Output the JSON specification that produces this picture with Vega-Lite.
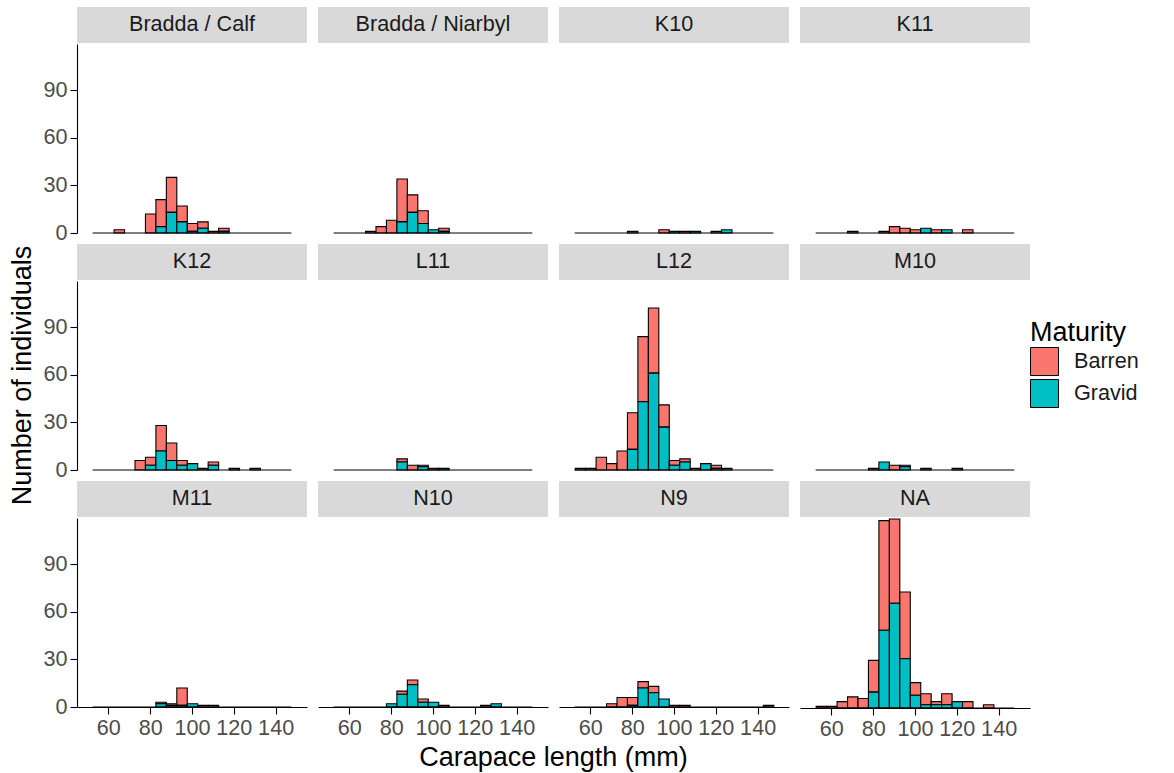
{
"$schema": "https://vega.github.io/schema/vega-lite/v6.json",
"padding": {"left": 8, "top": 7, "right": 0, "bottom": 0},
"title": {"text": "Number of individuals", "orient": "left", "anchor": "middle", "frame": "bounds", "dx": 16, "fontSize": 27, "fontWeight": "normal", "color": "#000", "offset": 6},
"datasets": {
"sites": [{"site":"Bradda / Calf"},{"site":"Bradda / Niarbyl"},{"site":"K10"},{"site":"K11"},{"site":"K12"},{"site":"L11"},{"site":"L12"},{"site":"M10"},{"site":"M11"},{"site":"N10"},{"site":"N9"},{"site":"NA"}],
"xlab": [{"label": "Carapace length (mm)"}],
"base": [{"lo": 52.5, "hi": 147.5, "n": 0}],
"hist": [
{"site":"Bradda / Calf","lo":62.5,"hi":67.5,"maturity":"Barren","n":2},
{"site":"Bradda / Calf","lo":77.5,"hi":82.5,"maturity":"Barren","n":12},
{"site":"Bradda / Calf","lo":82.5,"hi":87.5,"maturity":"Barren","n":17},
{"site":"Bradda / Calf","lo":82.5,"hi":87.5,"maturity":"Gravid","n":4},
{"site":"Bradda / Calf","lo":87.5,"hi":92.5,"maturity":"Barren","n":22},
{"site":"Bradda / Calf","lo":87.5,"hi":92.5,"maturity":"Gravid","n":13},
{"site":"Bradda / Calf","lo":92.5,"hi":97.5,"maturity":"Barren","n":10},
{"site":"Bradda / Calf","lo":92.5,"hi":97.5,"maturity":"Gravid","n":7},
{"site":"Bradda / Calf","lo":97.5,"hi":102.5,"maturity":"Barren","n":5},
{"site":"Bradda / Calf","lo":97.5,"hi":102.5,"maturity":"Gravid","n":1},
{"site":"Bradda / Calf","lo":102.5,"hi":107.5,"maturity":"Barren","n":4},
{"site":"Bradda / Calf","lo":102.5,"hi":107.5,"maturity":"Gravid","n":3},
{"site":"Bradda / Calf","lo":107.5,"hi":112.5,"maturity":"Barren","n":1},
{"site":"Bradda / Calf","lo":112.5,"hi":117.5,"maturity":"Barren","n":2},
{"site":"Bradda / Calf","lo":112.5,"hi":117.5,"maturity":"Gravid","n":1},
{"site":"Bradda / Niarbyl","lo":67.5,"hi":72.5,"maturity":"Barren","n":1},
{"site":"Bradda / Niarbyl","lo":72.5,"hi":77.5,"maturity":"Barren","n":4},
{"site":"Bradda / Niarbyl","lo":77.5,"hi":82.5,"maturity":"Barren","n":8},
{"site":"Bradda / Niarbyl","lo":82.5,"hi":87.5,"maturity":"Barren","n":27},
{"site":"Bradda / Niarbyl","lo":82.5,"hi":87.5,"maturity":"Gravid","n":7},
{"site":"Bradda / Niarbyl","lo":87.5,"hi":92.5,"maturity":"Barren","n":11},
{"site":"Bradda / Niarbyl","lo":87.5,"hi":92.5,"maturity":"Gravid","n":13},
{"site":"Bradda / Niarbyl","lo":92.5,"hi":97.5,"maturity":"Barren","n":8},
{"site":"Bradda / Niarbyl","lo":92.5,"hi":97.5,"maturity":"Gravid","n":6},
{"site":"Bradda / Niarbyl","lo":97.5,"hi":102.5,"maturity":"Gravid","n":2},
{"site":"Bradda / Niarbyl","lo":102.5,"hi":107.5,"maturity":"Barren","n":2},
{"site":"Bradda / Niarbyl","lo":102.5,"hi":107.5,"maturity":"Gravid","n":1},
{"site":"K10","lo":77.5,"hi":82.5,"maturity":"Barren","n":1},
{"site":"K10","lo":92.5,"hi":97.5,"maturity":"Barren","n":2},
{"site":"K10","lo":97.5,"hi":102.5,"maturity":"Gravid","n":1},
{"site":"K10","lo":102.5,"hi":107.5,"maturity":"Barren","n":1},
{"site":"K10","lo":107.5,"hi":112.5,"maturity":"Gravid","n":1},
{"site":"K10","lo":117.5,"hi":122.5,"maturity":"Barren","n":1},
{"site":"K10","lo":122.5,"hi":127.5,"maturity":"Gravid","n":2},
{"site":"K11","lo":67.5,"hi":72.5,"maturity":"Barren","n":1},
{"site":"K11","lo":82.5,"hi":87.5,"maturity":"Barren","n":1},
{"site":"K11","lo":87.5,"hi":92.5,"maturity":"Barren","n":4},
{"site":"K11","lo":92.5,"hi":97.5,"maturity":"Barren","n":3},
{"site":"K11","lo":97.5,"hi":102.5,"maturity":"Barren","n":2},
{"site":"K11","lo":102.5,"hi":107.5,"maturity":"Gravid","n":3},
{"site":"K11","lo":107.5,"hi":112.5,"maturity":"Barren","n":2},
{"site":"K11","lo":112.5,"hi":117.5,"maturity":"Gravid","n":2},
{"site":"K11","lo":122.5,"hi":127.5,"maturity":"Barren","n":2},
{"site":"K12","lo":72.5,"hi":77.5,"maturity":"Barren","n":6},
{"site":"K12","lo":77.5,"hi":82.5,"maturity":"Barren","n":5},
{"site":"K12","lo":77.5,"hi":82.5,"maturity":"Gravid","n":3},
{"site":"K12","lo":82.5,"hi":87.5,"maturity":"Barren","n":16},
{"site":"K12","lo":82.5,"hi":87.5,"maturity":"Gravid","n":12},
{"site":"K12","lo":87.5,"hi":92.5,"maturity":"Barren","n":11},
{"site":"K12","lo":87.5,"hi":92.5,"maturity":"Gravid","n":6},
{"site":"K12","lo":92.5,"hi":97.5,"maturity":"Barren","n":3},
{"site":"K12","lo":92.5,"hi":97.5,"maturity":"Gravid","n":3},
{"site":"K12","lo":97.5,"hi":102.5,"maturity":"Gravid","n":4},
{"site":"K12","lo":102.5,"hi":107.5,"maturity":"Barren","n":1},
{"site":"K12","lo":107.5,"hi":112.5,"maturity":"Barren","n":2},
{"site":"K12","lo":107.5,"hi":112.5,"maturity":"Gravid","n":3},
{"site":"K12","lo":117.5,"hi":122.5,"maturity":"Barren","n":1},
{"site":"K12","lo":127.5,"hi":132.5,"maturity":"Barren","n":1},
{"site":"L11","lo":82.5,"hi":87.5,"maturity":"Barren","n":2},
{"site":"L11","lo":82.5,"hi":87.5,"maturity":"Gravid","n":5},
{"site":"L11","lo":87.5,"hi":92.5,"maturity":"Barren","n":3},
{"site":"L11","lo":92.5,"hi":97.5,"maturity":"Barren","n":1},
{"site":"L11","lo":92.5,"hi":97.5,"maturity":"Gravid","n":2},
{"site":"L11","lo":97.5,"hi":102.5,"maturity":"Barren","n":1},
{"site":"L11","lo":102.5,"hi":107.5,"maturity":"Gravid","n":1},
{"site":"L12","lo":52.5,"hi":57.5,"maturity":"Barren","n":1},
{"site":"L12","lo":57.5,"hi":62.5,"maturity":"Barren","n":1},
{"site":"L12","lo":62.5,"hi":67.5,"maturity":"Barren","n":8},
{"site":"L12","lo":67.5,"hi":72.5,"maturity":"Barren","n":4},
{"site":"L12","lo":72.5,"hi":77.5,"maturity":"Barren","n":12},
{"site":"L12","lo":77.5,"hi":82.5,"maturity":"Barren","n":23},
{"site":"L12","lo":77.5,"hi":82.5,"maturity":"Gravid","n":13},
{"site":"L12","lo":82.5,"hi":87.5,"maturity":"Barren","n":41},
{"site":"L12","lo":82.5,"hi":87.5,"maturity":"Gravid","n":43},
{"site":"L12","lo":87.5,"hi":92.5,"maturity":"Barren","n":41},
{"site":"L12","lo":87.5,"hi":92.5,"maturity":"Gravid","n":61},
{"site":"L12","lo":92.5,"hi":97.5,"maturity":"Barren","n":14},
{"site":"L12","lo":92.5,"hi":97.5,"maturity":"Gravid","n":27},
{"site":"L12","lo":97.5,"hi":102.5,"maturity":"Barren","n":3},
{"site":"L12","lo":97.5,"hi":102.5,"maturity":"Gravid","n":3},
{"site":"L12","lo":102.5,"hi":107.5,"maturity":"Barren","n":2},
{"site":"L12","lo":102.5,"hi":107.5,"maturity":"Gravid","n":5},
{"site":"L12","lo":107.5,"hi":112.5,"maturity":"Barren","n":1},
{"site":"L12","lo":112.5,"hi":117.5,"maturity":"Gravid","n":4},
{"site":"L12","lo":117.5,"hi":122.5,"maturity":"Barren","n":2},
{"site":"L12","lo":117.5,"hi":122.5,"maturity":"Gravid","n":1},
{"site":"L12","lo":122.5,"hi":127.5,"maturity":"Gravid","n":1},
{"site":"M10","lo":77.5,"hi":82.5,"maturity":"Barren","n":1},
{"site":"M10","lo":82.5,"hi":87.5,"maturity":"Gravid","n":5},
{"site":"M10","lo":87.5,"hi":92.5,"maturity":"Barren","n":3},
{"site":"M10","lo":92.5,"hi":97.5,"maturity":"Barren","n":1},
{"site":"M10","lo":92.5,"hi":97.5,"maturity":"Gravid","n":2},
{"site":"M10","lo":102.5,"hi":107.5,"maturity":"Barren","n":1},
{"site":"M10","lo":117.5,"hi":122.5,"maturity":"Barren","n":1},
{"site":"M11","lo":82.5,"hi":87.5,"maturity":"Barren","n":1},
{"site":"M11","lo":82.5,"hi":87.5,"maturity":"Gravid","n":2},
{"site":"M11","lo":87.5,"hi":92.5,"maturity":"Barren","n":1},
{"site":"M11","lo":87.5,"hi":92.5,"maturity":"Gravid","n":1},
{"site":"M11","lo":92.5,"hi":97.5,"maturity":"Barren","n":11},
{"site":"M11","lo":92.5,"hi":97.5,"maturity":"Gravid","n":1},
{"site":"M11","lo":97.5,"hi":102.5,"maturity":"Gravid","n":2},
{"site":"M11","lo":102.5,"hi":107.5,"maturity":"Barren","n":1},
{"site":"M11","lo":107.5,"hi":112.5,"maturity":"Barren","n":1},
{"site":"N10","lo":77.5,"hi":82.5,"maturity":"Gravid","n":2},
{"site":"N10","lo":82.5,"hi":87.5,"maturity":"Barren","n":2},
{"site":"N10","lo":82.5,"hi":87.5,"maturity":"Gravid","n":8},
{"site":"N10","lo":87.5,"hi":92.5,"maturity":"Barren","n":3},
{"site":"N10","lo":87.5,"hi":92.5,"maturity":"Gravid","n":14},
{"site":"N10","lo":92.5,"hi":97.5,"maturity":"Barren","n":2},
{"site":"N10","lo":92.5,"hi":97.5,"maturity":"Gravid","n":3},
{"site":"N10","lo":97.5,"hi":102.5,"maturity":"Gravid","n":3},
{"site":"N10","lo":102.5,"hi":107.5,"maturity":"Barren","n":1},
{"site":"N10","lo":122.5,"hi":127.5,"maturity":"Barren","n":1},
{"site":"N10","lo":127.5,"hi":132.5,"maturity":"Gravid","n":2},
{"site":"N9","lo":67.5,"hi":72.5,"maturity":"Barren","n":2},
{"site":"N9","lo":72.5,"hi":77.5,"maturity":"Barren","n":6},
{"site":"N9","lo":77.5,"hi":82.5,"maturity":"Barren","n":5},
{"site":"N9","lo":77.5,"hi":82.5,"maturity":"Gravid","n":1},
{"site":"N9","lo":82.5,"hi":87.5,"maturity":"Barren","n":4},
{"site":"N9","lo":82.5,"hi":87.5,"maturity":"Gravid","n":12},
{"site":"N9","lo":87.5,"hi":92.5,"maturity":"Barren","n":4},
{"site":"N9","lo":87.5,"hi":92.5,"maturity":"Gravid","n":9},
{"site":"N9","lo":92.5,"hi":97.5,"maturity":"Gravid","n":5},
{"site":"N9","lo":97.5,"hi":102.5,"maturity":"Barren","n":1},
{"site":"N9","lo":102.5,"hi":107.5,"maturity":"Barren","n":1},
{"site":"N9","lo":142.5,"hi":147.5,"maturity":"Barren","n":1},
{"site":"NA","lo":52.5,"hi":57.5,"maturity":"Barren","n":1},
{"site":"NA","lo":57.5,"hi":62.5,"maturity":"Barren","n":1},
{"site":"NA","lo":62.5,"hi":67.5,"maturity":"Barren","n":4},
{"site":"NA","lo":67.5,"hi":72.5,"maturity":"Barren","n":7},
{"site":"NA","lo":72.5,"hi":77.5,"maturity":"Barren","n":6},
{"site":"NA","lo":77.5,"hi":82.5,"maturity":"Barren","n":20},
{"site":"NA","lo":77.5,"hi":82.5,"maturity":"Gravid","n":10},
{"site":"NA","lo":82.5,"hi":87.5,"maturity":"Barren","n":69},
{"site":"NA","lo":82.5,"hi":87.5,"maturity":"Gravid","n":49},
{"site":"NA","lo":87.5,"hi":92.5,"maturity":"Barren","n":53},
{"site":"NA","lo":87.5,"hi":92.5,"maturity":"Gravid","n":66},
{"site":"NA","lo":92.5,"hi":97.5,"maturity":"Barren","n":42},
{"site":"NA","lo":92.5,"hi":97.5,"maturity":"Gravid","n":31},
{"site":"NA","lo":97.5,"hi":102.5,"maturity":"Barren","n":8},
{"site":"NA","lo":97.5,"hi":102.5,"maturity":"Gravid","n":8},
{"site":"NA","lo":102.5,"hi":107.5,"maturity":"Barren","n":7},
{"site":"NA","lo":102.5,"hi":107.5,"maturity":"Gravid","n":2},
{"site":"NA","lo":107.5,"hi":112.5,"maturity":"Barren","n":2},
{"site":"NA","lo":107.5,"hi":112.5,"maturity":"Gravid","n":2},
{"site":"NA","lo":112.5,"hi":117.5,"maturity":"Barren","n":7},
{"site":"NA","lo":112.5,"hi":117.5,"maturity":"Gravid","n":2},
{"site":"NA","lo":117.5,"hi":122.5,"maturity":"Gravid","n":4},
{"site":"NA","lo":122.5,"hi":127.5,"maturity":"Barren","n":4},
{"site":"NA","lo":132.5,"hi":137.5,"maturity":"Barren","n":2}
]
},
"spacing": -1,
"vconcat": [
{"spacing": 11, "hconcat": [
 {"spacing": 1, "vconcat": [
  {"width": 230, "height": 36, "view": {"fill": "#D9D9D9", "stroke": null}, "data": {"name": "sites"}, "transform": [{"filter": "datum.site === 'Bradda / Calf'"}], "mark": {"type": "text", "fontSize": 21.6, "color": "#1A1A1A"}, "encoding": {"text": {"field": "site"}}},
  {"width": 230, "height": 189, "layer": [
   {"data": {"name": "hist"}, "transform": [{"filter": "datum.site === 'Bradda / Calf'"}], "mark": {"type": "bar", "stroke": "#000", "strokeWidth": 1.1, "binSpacing": 0},
    "encoding": {"x": {"field": "lo", "type": "quantitative", "bin": {"binned": true, "step": 5}, "scale": {"domain": [45, 155], "nice": false, "zero": false}, "axis": null},
     "x2": {"field": "hi"},
     "y": {"field": "n", "type": "quantitative", "stack": "zero", "scale": {"domain": [0, 119], "nice": false}, "axis": {"values": [0, 30, 60, 90], "title": null}},
     "color": {"field": "maturity", "type": "nominal", "title": "Maturity", "legend": {"orient": "none", "legendX": 953, "legendY": 313}},
     "order": {"field": "maturity", "sort": "descending"}}},
   {"data": {"name": "base"}, "mark": {"type": "rule", "stroke": "#000", "strokeWidth": 1.1}, "encoding": {"x": {"field": "lo", "type": "quantitative"}, "x2": {"field": "hi"}, "y": {"field": "n", "type": "quantitative"}}}
  ]}
 ]},
 {"spacing": 1, "vconcat": [
  {"width": 230, "height": 36, "view": {"fill": "#D9D9D9", "stroke": null}, "data": {"name": "sites"}, "transform": [{"filter": "datum.site === 'Bradda / Niarbyl'"}], "mark": {"type": "text", "fontSize": 21.6, "color": "#1A1A1A"}, "encoding": {"text": {"field": "site"}}},
  {"width": 230, "height": 189, "layer": [
   {"data": {"name": "hist"}, "transform": [{"filter": "datum.site === 'Bradda / Niarbyl'"}], "mark": {"type": "bar", "stroke": "#000", "strokeWidth": 1.1, "binSpacing": 0},
    "encoding": {"x": {"field": "lo", "type": "quantitative", "bin": {"binned": true, "step": 5}, "scale": {"domain": [45, 155], "nice": false, "zero": false}, "axis": null},
     "x2": {"field": "hi"},
     "y": {"field": "n", "type": "quantitative", "stack": "zero", "scale": {"domain": [0, 119], "nice": false}, "axis": null},
     "color": {"field": "maturity", "type": "nominal", "title": "Maturity", "legend": {"orient": "none", "legendX": 953, "legendY": 313}},
     "order": {"field": "maturity", "sort": "descending"}}},
   {"data": {"name": "base"}, "mark": {"type": "rule", "stroke": "#000", "strokeWidth": 1.1}, "encoding": {"x": {"field": "lo", "type": "quantitative"}, "x2": {"field": "hi"}, "y": {"field": "n", "type": "quantitative"}}}
  ]}
 ]},
 {"spacing": 1, "vconcat": [
  {"width": 230, "height": 36, "view": {"fill": "#D9D9D9", "stroke": null}, "data": {"name": "sites"}, "transform": [{"filter": "datum.site === 'K10'"}], "mark": {"type": "text", "fontSize": 21.6, "color": "#1A1A1A"}, "encoding": {"text": {"field": "site"}}},
  {"width": 230, "height": 189, "layer": [
   {"data": {"name": "hist"}, "transform": [{"filter": "datum.site === 'K10'"}], "mark": {"type": "bar", "stroke": "#000", "strokeWidth": 1.1, "binSpacing": 0},
    "encoding": {"x": {"field": "lo", "type": "quantitative", "bin": {"binned": true, "step": 5}, "scale": {"domain": [45, 155], "nice": false, "zero": false}, "axis": null},
     "x2": {"field": "hi"},
     "y": {"field": "n", "type": "quantitative", "stack": "zero", "scale": {"domain": [0, 119], "nice": false}, "axis": null},
     "color": {"field": "maturity", "type": "nominal", "title": "Maturity", "legend": {"orient": "none", "legendX": 953, "legendY": 313}},
     "order": {"field": "maturity", "sort": "descending"}}},
   {"data": {"name": "base"}, "mark": {"type": "rule", "stroke": "#000", "strokeWidth": 1.1}, "encoding": {"x": {"field": "lo", "type": "quantitative"}, "x2": {"field": "hi"}, "y": {"field": "n", "type": "quantitative"}}}
  ]}
 ]},
 {"spacing": 1, "vconcat": [
  {"width": 230, "height": 36, "view": {"fill": "#D9D9D9", "stroke": null}, "data": {"name": "sites"}, "transform": [{"filter": "datum.site === 'K11'"}], "mark": {"type": "text", "fontSize": 21.6, "color": "#1A1A1A"}, "encoding": {"text": {"field": "site"}}},
  {"width": 230, "height": 189, "layer": [
   {"data": {"name": "hist"}, "transform": [{"filter": "datum.site === 'K11'"}], "mark": {"type": "bar", "stroke": "#000", "strokeWidth": 1.1, "binSpacing": 0},
    "encoding": {"x": {"field": "lo", "type": "quantitative", "bin": {"binned": true, "step": 5}, "scale": {"domain": [45, 155], "nice": false, "zero": false}, "axis": null},
     "x2": {"field": "hi"},
     "y": {"field": "n", "type": "quantitative", "stack": "zero", "scale": {"domain": [0, 119], "nice": false}, "axis": null},
     "color": {"field": "maturity", "type": "nominal", "title": "Maturity", "legend": {"orient": "none", "legendX": 953, "legendY": 313}},
     "order": {"field": "maturity", "sort": "descending"}}},
   {"data": {"name": "base"}, "mark": {"type": "rule", "stroke": "#000", "strokeWidth": 1.1}, "encoding": {"x": {"field": "lo", "type": "quantitative"}, "x2": {"field": "hi"}, "y": {"field": "n", "type": "quantitative"}}}
  ]}
 ]}
]},
{"spacing": 11, "hconcat": [
 {"spacing": 1, "vconcat": [
  {"width": 230, "height": 36, "view": {"fill": "#D9D9D9", "stroke": null}, "data": {"name": "sites"}, "transform": [{"filter": "datum.site === 'K12'"}], "mark": {"type": "text", "fontSize": 21.6, "color": "#1A1A1A"}, "encoding": {"text": {"field": "site"}}},
  {"width": 230, "height": 189, "layer": [
   {"data": {"name": "hist"}, "transform": [{"filter": "datum.site === 'K12'"}], "mark": {"type": "bar", "stroke": "#000", "strokeWidth": 1.1, "binSpacing": 0},
    "encoding": {"x": {"field": "lo", "type": "quantitative", "bin": {"binned": true, "step": 5}, "scale": {"domain": [45, 155], "nice": false, "zero": false}, "axis": null},
     "x2": {"field": "hi"},
     "y": {"field": "n", "type": "quantitative", "stack": "zero", "scale": {"domain": [0, 119], "nice": false}, "axis": {"values": [0, 30, 60, 90], "title": null}},
     "color": {"field": "maturity", "type": "nominal", "title": "Maturity", "legend": {"orient": "none", "legendX": 953, "legendY": 313}},
     "order": {"field": "maturity", "sort": "descending"}}},
   {"data": {"name": "base"}, "mark": {"type": "rule", "stroke": "#000", "strokeWidth": 1.1}, "encoding": {"x": {"field": "lo", "type": "quantitative"}, "x2": {"field": "hi"}, "y": {"field": "n", "type": "quantitative"}}}
  ]}
 ]},
 {"spacing": 1, "vconcat": [
  {"width": 230, "height": 36, "view": {"fill": "#D9D9D9", "stroke": null}, "data": {"name": "sites"}, "transform": [{"filter": "datum.site === 'L11'"}], "mark": {"type": "text", "fontSize": 21.6, "color": "#1A1A1A"}, "encoding": {"text": {"field": "site"}}},
  {"width": 230, "height": 189, "layer": [
   {"data": {"name": "hist"}, "transform": [{"filter": "datum.site === 'L11'"}], "mark": {"type": "bar", "stroke": "#000", "strokeWidth": 1.1, "binSpacing": 0},
    "encoding": {"x": {"field": "lo", "type": "quantitative", "bin": {"binned": true, "step": 5}, "scale": {"domain": [45, 155], "nice": false, "zero": false}, "axis": null},
     "x2": {"field": "hi"},
     "y": {"field": "n", "type": "quantitative", "stack": "zero", "scale": {"domain": [0, 119], "nice": false}, "axis": null},
     "color": {"field": "maturity", "type": "nominal", "title": "Maturity", "legend": {"orient": "none", "legendX": 953, "legendY": 313}},
     "order": {"field": "maturity", "sort": "descending"}}},
   {"data": {"name": "base"}, "mark": {"type": "rule", "stroke": "#000", "strokeWidth": 1.1}, "encoding": {"x": {"field": "lo", "type": "quantitative"}, "x2": {"field": "hi"}, "y": {"field": "n", "type": "quantitative"}}}
  ]}
 ]},
 {"spacing": 1, "vconcat": [
  {"width": 230, "height": 36, "view": {"fill": "#D9D9D9", "stroke": null}, "data": {"name": "sites"}, "transform": [{"filter": "datum.site === 'L12'"}], "mark": {"type": "text", "fontSize": 21.6, "color": "#1A1A1A"}, "encoding": {"text": {"field": "site"}}},
  {"width": 230, "height": 189, "layer": [
   {"data": {"name": "hist"}, "transform": [{"filter": "datum.site === 'L12'"}], "mark": {"type": "bar", "stroke": "#000", "strokeWidth": 1.1, "binSpacing": 0},
    "encoding": {"x": {"field": "lo", "type": "quantitative", "bin": {"binned": true, "step": 5}, "scale": {"domain": [45, 155], "nice": false, "zero": false}, "axis": null},
     "x2": {"field": "hi"},
     "y": {"field": "n", "type": "quantitative", "stack": "zero", "scale": {"domain": [0, 119], "nice": false}, "axis": null},
     "color": {"field": "maturity", "type": "nominal", "title": "Maturity", "legend": {"orient": "none", "legendX": 953, "legendY": 313}},
     "order": {"field": "maturity", "sort": "descending"}}},
   {"data": {"name": "base"}, "mark": {"type": "rule", "stroke": "#000", "strokeWidth": 1.1}, "encoding": {"x": {"field": "lo", "type": "quantitative"}, "x2": {"field": "hi"}, "y": {"field": "n", "type": "quantitative"}}}
  ]}
 ]},
 {"spacing": 1, "vconcat": [
  {"width": 230, "height": 36, "view": {"fill": "#D9D9D9", "stroke": null}, "data": {"name": "sites"}, "transform": [{"filter": "datum.site === 'M10'"}], "mark": {"type": "text", "fontSize": 21.6, "color": "#1A1A1A"}, "encoding": {"text": {"field": "site"}}},
  {"width": 230, "height": 189, "layer": [
   {"data": {"name": "hist"}, "transform": [{"filter": "datum.site === 'M10'"}], "mark": {"type": "bar", "stroke": "#000", "strokeWidth": 1.1, "binSpacing": 0},
    "encoding": {"x": {"field": "lo", "type": "quantitative", "bin": {"binned": true, "step": 5}, "scale": {"domain": [45, 155], "nice": false, "zero": false}, "axis": null},
     "x2": {"field": "hi"},
     "y": {"field": "n", "type": "quantitative", "stack": "zero", "scale": {"domain": [0, 119], "nice": false}, "axis": null},
     "color": {"field": "maturity", "type": "nominal", "title": "Maturity", "legend": {"orient": "none", "legendX": 953, "legendY": 313}},
     "order": {"field": "maturity", "sort": "descending"}}},
   {"data": {"name": "base"}, "mark": {"type": "rule", "stroke": "#000", "strokeWidth": 1.1}, "encoding": {"x": {"field": "lo", "type": "quantitative"}, "x2": {"field": "hi"}, "y": {"field": "n", "type": "quantitative"}}}
  ]}
 ]}
]},
{"spacing": 11, "hconcat": [
 {"spacing": 1, "vconcat": [
  {"width": 230, "height": 36, "view": {"fill": "#D9D9D9", "stroke": null}, "data": {"name": "sites"}, "transform": [{"filter": "datum.site === 'M11'"}], "mark": {"type": "text", "fontSize": 21.6, "color": "#1A1A1A"}, "encoding": {"text": {"field": "site"}}},
  {"width": 230, "height": 189, "layer": [
   {"data": {"name": "hist"}, "transform": [{"filter": "datum.site === 'M11'"}], "mark": {"type": "bar", "stroke": "#000", "strokeWidth": 1.1, "binSpacing": 0},
    "encoding": {"x": {"field": "lo", "type": "quantitative", "bin": {"binned": true, "step": 5}, "scale": {"domain": [45, 155], "nice": false, "zero": false}, "axis": {"values": [60, 80, 100, 120, 140], "format": "d", "title": null}},
     "x2": {"field": "hi"},
     "y": {"field": "n", "type": "quantitative", "stack": "zero", "scale": {"domain": [0, 119], "nice": false}, "axis": {"values": [0, 30, 60, 90], "title": null}},
     "color": {"field": "maturity", "type": "nominal", "title": "Maturity", "legend": {"orient": "none", "legendX": 953, "legendY": 313}},
     "order": {"field": "maturity", "sort": "descending"}}},
   {"data": {"name": "base"}, "mark": {"type": "rule", "stroke": "#000", "strokeWidth": 1.1}, "encoding": {"x": {"field": "lo", "type": "quantitative"}, "x2": {"field": "hi"}, "y": {"field": "n", "type": "quantitative"}}}
  ]}
 ]},
 {"spacing": 1, "vconcat": [
  {"width": 230, "height": 36, "view": {"fill": "#D9D9D9", "stroke": null}, "data": {"name": "sites"}, "transform": [{"filter": "datum.site === 'N10'"}], "mark": {"type": "text", "fontSize": 21.6, "color": "#1A1A1A"}, "encoding": {"text": {"field": "site"}}},
  {"width": 230, "height": 189, "layer": [
   {"data": {"name": "hist"}, "transform": [{"filter": "datum.site === 'N10'"}], "mark": {"type": "bar", "stroke": "#000", "strokeWidth": 1.1, "binSpacing": 0},
    "encoding": {"x": {"field": "lo", "type": "quantitative", "bin": {"binned": true, "step": 5}, "scale": {"domain": [45, 155], "nice": false, "zero": false}, "axis": {"values": [60, 80, 100, 120, 140], "format": "d", "title": null}},
     "x2": {"field": "hi"},
     "y": {"field": "n", "type": "quantitative", "stack": "zero", "scale": {"domain": [0, 119], "nice": false}, "axis": null},
     "color": {"field": "maturity", "type": "nominal", "title": "Maturity", "legend": {"orient": "none", "legendX": 953, "legendY": 313}},
     "order": {"field": "maturity", "sort": "descending"}}},
   {"data": {"name": "base"}, "mark": {"type": "rule", "stroke": "#000", "strokeWidth": 1.1}, "encoding": {"x": {"field": "lo", "type": "quantitative"}, "x2": {"field": "hi"}, "y": {"field": "n", "type": "quantitative"}}}
  ]}
 ]},
 {"spacing": 1, "vconcat": [
  {"width": 230, "height": 36, "view": {"fill": "#D9D9D9", "stroke": null}, "data": {"name": "sites"}, "transform": [{"filter": "datum.site === 'N9'"}], "mark": {"type": "text", "fontSize": 21.6, "color": "#1A1A1A"}, "encoding": {"text": {"field": "site"}}},
  {"width": 230, "height": 189, "layer": [
   {"data": {"name": "hist"}, "transform": [{"filter": "datum.site === 'N9'"}], "mark": {"type": "bar", "stroke": "#000", "strokeWidth": 1.1, "binSpacing": 0},
    "encoding": {"x": {"field": "lo", "type": "quantitative", "bin": {"binned": true, "step": 5}, "scale": {"domain": [45, 155], "nice": false, "zero": false}, "axis": {"values": [60, 80, 100, 120, 140], "format": "d", "title": null}},
     "x2": {"field": "hi"},
     "y": {"field": "n", "type": "quantitative", "stack": "zero", "scale": {"domain": [0, 119], "nice": false}, "axis": null},
     "color": {"field": "maturity", "type": "nominal", "title": "Maturity", "legend": {"orient": "none", "legendX": 953, "legendY": 313}},
     "order": {"field": "maturity", "sort": "descending"}}},
   {"data": {"name": "base"}, "mark": {"type": "rule", "stroke": "#000", "strokeWidth": 1.1}, "encoding": {"x": {"field": "lo", "type": "quantitative"}, "x2": {"field": "hi"}, "y": {"field": "n", "type": "quantitative"}}}
  ]}
 ]},
 {"spacing": 1, "vconcat": [
  {"width": 230, "height": 36, "view": {"fill": "#D9D9D9", "stroke": null}, "data": {"name": "sites"}, "transform": [{"filter": "datum.site === 'NA'"}], "mark": {"type": "text", "fontSize": 21.6, "color": "#1A1A1A"}, "encoding": {"text": {"field": "site"}}},
  {"width": 230, "height": 189, "layer": [
   {"data": {"name": "hist"}, "transform": [{"filter": "datum.site === 'NA'"}], "mark": {"type": "bar", "stroke": "#000", "strokeWidth": 1.1, "binSpacing": 0},
    "encoding": {"x": {"field": "lo", "type": "quantitative", "bin": {"binned": true, "step": 5}, "scale": {"domain": [45, 155], "nice": false, "zero": false}, "axis": {"values": [60, 80, 100, 120, 140], "format": "d", "title": null}},
     "x2": {"field": "hi"},
     "y": {"field": "n", "type": "quantitative", "stack": "zero", "scale": {"domain": [0, 119], "nice": false}, "axis": null},
     "color": {"field": "maturity", "type": "nominal", "title": "Maturity", "legend": {"orient": "none", "legendX": 953, "legendY": 313}},
     "order": {"field": "maturity", "sort": "descending"}}},
   {"data": {"name": "base"}, "mark": {"type": "rule", "stroke": "#000", "strokeWidth": 1.1}, "encoding": {"x": {"field": "lo", "type": "quantitative"}, "x2": {"field": "hi"}, "y": {"field": "n", "type": "quantitative"}}}
  ]}
 ]}
]},
{"width": 953, "height": 36, "data": {"name": "xlab"}, "mark": {"type": "text", "fontSize": 27, "color": "#000"}, "encoding": {"text": {"field": "label"}}}
],
"config": {
 "font": "Liberation Sans",
 "view": {"stroke": null},
 "range": {"category": ["#F8766D", "#00BFC4"]},
 "axis": {"grid": false, "domainColor": "#000", "domainWidth": 1.1, "tickColor": "#000", "tickWidth": 1.1, "tickSize": 7, "labelColor": "#4D4D4D", "labelFontSize": 21.6, "labelPadding": 3, "titleFontSize": 27, "titleFontWeight": "normal", "titleColor": "#000", "titlePadding": 4},
 "legend": {"titleFontSize": 27, "titleFontWeight": "normal", "titleColor": "#000", "labelFontSize": 21.6, "labelColor": "#1A1A1A", "symbolType": "square", "symbolSize": 784, "symbolStrokeColor": "#000", "symbolStrokeWidth": 1, "symbolOpacity": 1, "rowPadding": -1, "labelOffset": 15, "titlePadding": 0}
}
}
